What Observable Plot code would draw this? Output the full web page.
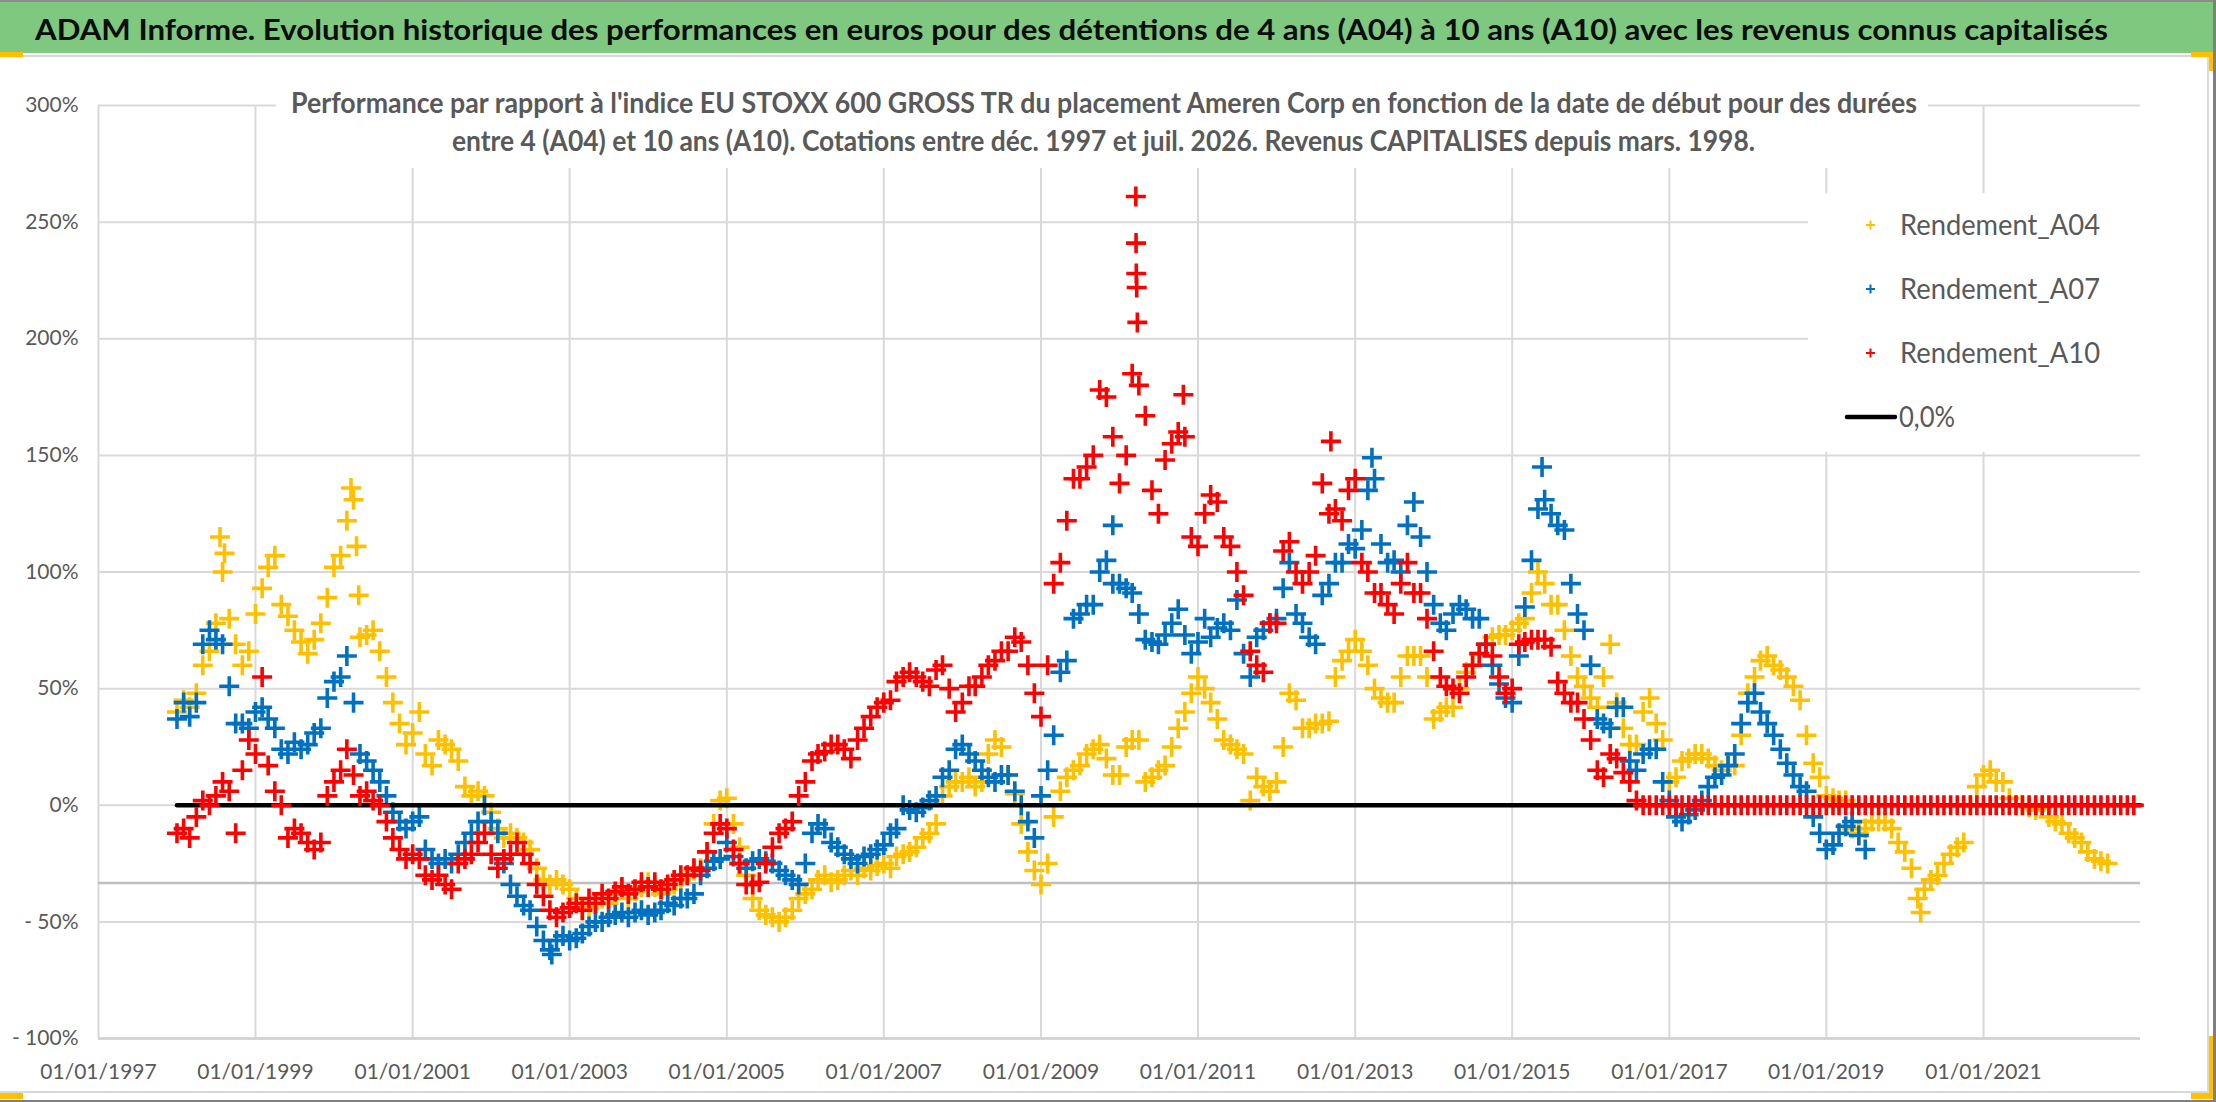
<!DOCTYPE html>
<html>
<head>
<meta charset="utf-8">
<script src="https://cdn.jsdelivr.net/npm/d3@7"></script>
<script src="https://cdn.jsdelivr.net/npm/@observablehq/plot@0.6"></script>
<style>
  html, body { margin: 0; padding: 0; background: #fff; }
  #page { position: relative; width: 2216px; height: 1102px; overflow: hidden; background: #fff; }
  #chart { position: absolute; left: 0; top: 60px; }
  #overlay { position: absolute; left: 0; top: 0; pointer-events: none; }
</style>
</head>
<body>
<div id="page">
  <div id="chart"></div>
  <svg id="overlay" width="2216" height="1102" xmlns="http://www.w3.org/2000/svg"></svg>
</div>
<script>
// ---------- texts ----------
const titleText = "ADAM Informe. Evolution historique des performances en euros pour des détentions de 4 ans (A04) à 10 ans (A10) avec les revenus connus capitalisés";
const subtitleLines = [
  "Performance par rapport à l'indice EU STOXX 600 GROSS TR  du placement Ameren Corp en fonction de la date de début pour des durées",
  "entre 4 (A04) et 10 ans (A10). Cotations entre déc. 1997 et juil. 2026. Revenus CAPITALISES depuis mars. 1998."
];
const seriesNames = ["Rendement_A04", "Rendement_A07", "Rendement_A10"];
const zeroName = "0,0%";

// ---------- axes ----------
const yTicks = [-100, -50, 0, 50, 100, 150, 200, 250, 300];
const xTickYears = [1997, 1999, 2001, 2003, 2005, 2007, 2009, 2011, 2013, 2015, 2017, 2019, 2021];
const xDomain = ["1997-01-01", "2023-01-01"];
const axisCross = -33.3;

// ---------- data (monthly, first value = Jan 1998), in % ----------
const seriesStart = "1998-01-01";
const a04 = [
  40,45,42,48,60,66,78,100,80,69,60,66,
  82,93,102,107,86,81,75,70,65,71,78,89,
  102,107,122,131,72,73,75,66,55,44,35,26,
  31,40,22,17,28,26,24,19,8,4,6,4,
  -3,-10,-14,-12,-14,-16,-19,-27,-32,-34,-32,-34,
  -36,-40,-45,-44,-42,-40,-42,-38,-36,-40,-37,-35,
  -33,-35,-38,-36,-34,-32,-30,-28,-27,-20,-8,2,
  3,-8,-18,-30,-40,-45,-47,-48,-50,-48,-45,-40,
  -38,-36,-32,-30,-33,-32,-30,-28,-30,-27,-28,-26,
  -25,-27,-22,-21,-20,-18,-14,-12,-8,4,8,10,
  10,12,8,10,22,28,25,13,5,-8,-20,-28,
  -34,-25,-5,6,12,15,17,22,24,26,20,13,
  13,25,28,28,10,12,15,17,25,33,40,48,
  55,50,44,37,28,26,24,22,2,12,8,6,
  10,25,48,45,33,33,35,35,36,55,62,66,
  71,66,60,50,46,44,44,55,64,64,64,55,
  37,40,42,42,50,57,60,65,69,72,73,73,
  75,78,80,91,100,95,86,86,75,64,55,51,
  46,42,55,69,44,33,26,26,40,46,35,28,
  10,12,19,20,22,22,20,17,15,17,17,30,
  48,55,62,64,60,58,55,51,45,30,18,12,
  4,3,2,2,-10,-12,-10,-7,-7,-7,-10,-16,
  -20,-27,-40,-36,-32,-30,-25,-21,-18,-16,0,8,
  13,15,10,10,3,0,0,-1,-2,-1,-5,-7,
  -8,-12,-14,-16,-20,-23,-24,-25
];
const a07 = [
  37,44,38,44,69,75,71,69,51,35,35,33,
  40,42,37,33,24,22,27,24,26,31,33,46,
  53,55,64,44,22,19,15,10,4,-3,-7,-10,
  -7,-5,-19,-23,-25,-23,-25,-21,-16,-12,-7,0,
  -7,-12,-25,-34,-39,-43,-45,-52,-58,-62,-58,-56,
  -58,-57,-55,-52,-50,-50,-48,-47,-46,-48,-46,-45,
  -47,-46,-45,-42,-43,-40,-40,-38,-30,-27,-24,-23,
  -16,-22,-25,-27,-24,-23,-24,-25,-28,-30,-32,-34,
  -25,-12,-8,-10,-16,-18,-21,-23,-25,-22,-21,-19,
  -17,-12,-10,0,-2,-3,-1,2,4,12,15,24,
  26,22,19,15,12,10,13,13,6,0,-7,-14,
  4,15,30,57,62,80,82,86,86,100,105,95,
  95,93,91,82,71,70,69,73,78,84,73,65,
  70,80,72,76,78,75,88,65,55,72,75,78,
  80,93,104,82,78,72,69,90,95,104,104,112,
  110,118,135,140,112,104,105,100,120,130,115,100,
  86,78,75,82,86,84,80,80,69,60,52,46,
  44,64,85,105,127,131,125,120,118,95,82,75,
  60,37,35,33,42,42,19,15,22,24,24,10,
  2,-5,-7,-4,-2,2,8,12,13,17,22,35,
  44,48,40,35,30,24,18,13,8,6,-5,-12,
  -19,-17,-12,-9,-7,-13,-19
];
const a10 = [
  -12,-10,-14,-5,2,0,4,10,6,-12,15,28,
  22,55,17,6,0,-14,-10,-12,-16,-19,-16,4,
  10,15,24,13,4,6,2,0,-7,-14,-19,-23,
  -21,-23,-30,-32,-30,-34,-36,-25,-23,-21,-16,-12,
  -21,-27,-23,-21,-16,-21,-25,-34,-39,-45,-48,-46,
  -44,-42,-45,-40,-42,-38,-40,-37,-35,-38,-36,-33,
  -35,-33,-36,-34,-32,-30,-30,-27,-28,-20,-12,-8,
  -10,-19,-25,-34,-34,-33,-25,-18,-12,-10,-7,4,
  10,19,22,23,26,26,24,20,28,33,38,42,
  44,45,53,55,57,55,53,51,58,60,50,40,
  44,51,51,55,60,62,66,66,72,70,60,48,
  38,60,95,104,122,140,140,145,150,178,175,158,
  138,150,185,180,167,135,125,148,155,160,158,115,
  111,125,133,130,115,111,100,90,66,60,57,78,
  78,109,113,100,95,100,107,138,125,127,122,135,
  140,104,100,91,91,86,82,95,104,91,91,80,
  66,55,51,50,48,55,60,65,69,64,55,48,
  50,69,70,71,71,71,68,53,48,44,44,37,
  28,15,12,22,20,14,10,2,0,0,0,0,
  0,0,0,0,0,0,0,0,0,0,0,0,
  0,0,0,0,0,0,0,0,0,0,0,0,
  0,0,0,0,0,0,0,0,0,0,0,0,
  0,0,0,0,0,0,0,0,0,0,0,0,
  0,0,0,0,0,0,0,0,0,0,0,0,
  0,0,0,0,0,0,0,0,0,0,0,0
];
// isolated extreme readings (date, %)
const a04PeakDates = ["1998-07-20","1998-08-10","2000-03-20","2000-04-15","2000-04-25","2020-03-15"];
const a04PeakValues = [115, 108, 136, 111, 90, -46];
const a07PeakDates = ["2009-12-01","2013-03-20","2015-05-20","2002-10-10"];
const a07PeakValues = [120, 149, 145, -64];
const a10PeakDates = ["2010-03-18","2010-03-19","2010-03-20","2010-03-22","2010-03-25","2010-10-25","2012-09-10"];
const a10PeakValues = [261, 241, 228, 222, 207, 176, 156];
// the 0,0% reference line
const zeroDates = ["1998-01-01", "2023-01-01"];
const zeroValues = [0, 0];

// ---------- colors ----------
const colA04 = "#FFC000", colA07 = "#0070C0", colA10 = "#FF0000";

// ---------- build tables ----------
const t0 = new Date(seriesStart + "T00:00:00Z");
const monthly = vals => vals.map((v, i) => ({date: d3.utcMonth.offset(t0, i), value: v}));
const pairs = (ds, vs) => ds.map((d, i) => ({date: new Date(d + "T00:00:00Z"), value: vs[i]}));
const A04 = monthly(a04).concat(pairs(a04PeakDates, a04PeakValues));
const A07 = monthly(a07).concat(pairs(a07PeakDates, a07PeakValues));
const A10 = monthly(a10).concat(pairs(a10PeakDates, a10PeakValues));
const ZERO = pairs(zeroDates, zeroValues);
const xTicks = xTickYears.map(y => new Date(Date.UTC(y, 0, 1)));
const yFmt = d => d < 0 ? `- ${-d}%` : `${d}%`;

const dotOpts = (stroke) => ({x: "date", y: "value", symbol: "plus", r: 6.5, stroke, strokeWidth: 3.6});

const plot = Plot.plot({
  width: 2216,
  height: 1030,
  marginTop: 45,
  marginBottom: 52,
  marginLeft: 98,
  marginRight: 76,
  style: {fontFamily: "Lato, 'Open Sans', sans-serif", fontSize: "21px", color: "#595959", background: "transparent"},
  x: {type: "utc", domain: xDomain.map(d => new Date(d + "T00:00:00Z"))},
  y: {domain: [-100, 300]},
  marks: [
    Plot.gridY(yTicks, {stroke: "#d9d9d9", strokeOpacity: 1, strokeWidth: 2}),
    Plot.gridX(xTicks, {stroke: "#d9d9d9", strokeOpacity: 1, strokeWidth: 2}),
    Plot.ruleY([axisCross], {stroke: "#bfbfbf", strokeWidth: 2.5}),
    Plot.ruleY([-100], {stroke: "#d0d0d0", strokeWidth: 2.5}),
    Plot.axisY(yTicks, {tickSize: 0, tickPadding: 20, tickFormat: yFmt, label: null, fill: "#595959", fontSize: 21}),
    Plot.axisX(xTicks, {tickSize: 0, tickPadding: 26, tickFormat: d3.utcFormat("%d/%m/%Y"), label: null, fill: "#595959", fontSize: 21}),
    Plot.dot(A04, dotOpts(colA04)),
    Plot.dot(A07, dotOpts(colA07)),
    Plot.line(ZERO, {x: "date", y: "value", stroke: "#000", strokeWidth: 4.5}),
    Plot.dot(A10, dotOpts(colA10))
  ]
});
document.getElementById("chart").appendChild(plot);

// ---------- overlay: banner, titles, legend, frame ----------
const ov = d3.select("#overlay");
const FONT = "Lato, 'Open Sans', sans-serif";
// banner
ov.append("rect").attr("x", 0).attr("y", 0).attr("width", 2216).attr("height", 2).attr("fill", "#8c8c8c");
ov.append("rect").attr("x", 0).attr("y", 2).attr("width", 2213).attr("height", 51).attr("fill", "#7ec87f");
ov.append("text").text(titleText)
  .attr("x", 35).attr("y", 40).attr("textLength", 2073).attr("lengthAdjust", "spacingAndGlyphs")
  .attr("font-family", FONT).attr("font-weight", "bold").attr("font-size", 29).attr("fill", "#0d0d0d");
// light frame
ov.append("rect").attr("x", 0).attr("y", 55).attr("width", 2209).attr("height", 2).attr("fill", "#d9d9d9");
ov.append("rect").attr("x", 2207).attr("y", 55).attr("width", 2).attr("height", 1038).attr("fill", "#d9d9d9");
ov.append("rect").attr("x", 0).attr("y", 1091).attr("width", 2209).attr("height", 2).attr("fill", "#d9d9d9");
// outer dark frame
ov.append("rect").attr("x", 2213).attr("y", 0).attr("width", 3).attr("height", 1102).attr("fill", "#7f7f7f");
ov.append("rect").attr("x", 0).attr("y", 1100).attr("width", 2216).attr("height", 2).attr("fill", "#7f7f7f");
// selection handles
const handles = [[0,52,23,5],[2191,52,22,5],[2209,52,4,19],[2209,1036,4,63],[2191,1093,22,6],[0,1093,23,6]];
handles.forEach(([x,y,w,h]) => ov.append("rect").attr("x", x).attr("y", y).attr("width", w).attr("height", h).attr("fill", "#FFC000"));

// subtitle box
ov.append("rect").attr("x", 276).attr("y", 86).attr("width", 1652).attr("height", 82).attr("fill", "#fff");
const subPos = [[291, 113, 1626], [452, 151, 1303]];
subtitleLines.forEach((s, i) => {
  ov.append("text").text(s)
    .attr("x", subPos[i][0]).attr("y", subPos[i][1]).attr("textLength", subPos[i][2]).attr("lengthAdjust", "spacingAndGlyphs")
    .attr("font-family", FONT).attr("font-weight", "bold").attr("font-size", 28).attr("fill", "#595959");
});

// legend
ov.append("rect").attr("x", 1808).attr("y", 193).attr("width", 332).attr("height", 259).attr("fill", "#fff");
const legCols = [colA04, colA07, colA10];
const legRows = [225, 289, 353, 417];
seriesNames.forEach((name, i) => {
  const cy = legRows[i];
  ov.append("path").attr("d", `M1866,${cy}H1875M1870.5,${cy-4.5}V${cy+4.5}`).attr("stroke", legCols[i]).attr("stroke-width", 2).attr("fill", "none");
  ov.append("text").text(name).attr("x", 1900).attr("y", cy + 10).attr("textLength", 200).attr("lengthAdjust", "spacingAndGlyphs")
    .attr("font-family", FONT).attr("font-size", 28).attr("fill", "#595959");
});
ov.append("line").attr("x1", 1847).attr("x2", 1895).attr("y1", legRows[3]).attr("y2", legRows[3]).attr("stroke", "#000").attr("stroke-width", 4.5).attr("stroke-linecap", "round");
ov.append("text").text(zeroName).attr("x", 1899).attr("y", legRows[3] + 10).attr("textLength", 56).attr("lengthAdjust", "spacingAndGlyphs")
  .attr("font-family", FONT).attr("font-size", 28).attr("fill", "#595959");
</script>
</body>
</html>
